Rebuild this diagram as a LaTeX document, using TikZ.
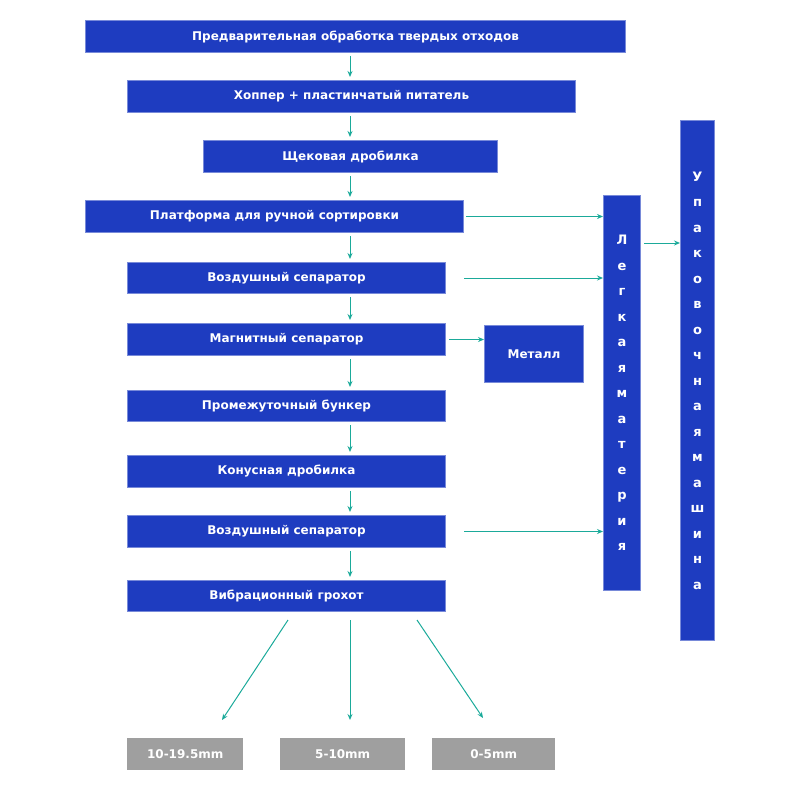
\documentclass[tikz,border=0pt]{standalone}
\usepackage{fontspec}
\setmainfont{DejaVu Sans}
\usetikzlibrary{arrows.meta}
\begin{document}
\begin{tikzpicture}[x=1pt,y=-1pt,
 bx/.style={fill=bl,draw=bl!60,line width=1pt,text=white,font=\bfseries\fontsize{12}{14}\selectfont,inner sep=0pt,anchor=north west},
 gb/.style={fill=gray!75,text=white,font=\bfseries\fontsize{12}{14}\selectfont,inner sep=0pt,anchor=north west,minimum height=32pt},
 ar/.style={draw=tl,line width=1pt,-{Stealth[length=6pt,width=5pt]}},
 vt/.style={fill=bl,draw=bl!60,line width=1pt,text=white,font=\bfseries\fontsize{13}{25.5}\selectfont,inner sep=0pt,anchor=north west,align=center}]
\definecolor{bl}{HTML}{1E3CC0}
\definecolor{tl}{HTML}{1BAA9A}
\useasboundingbox (0,0) rectangle (800,800);
\node[bx,minimum width=540pt,minimum height=32pt] (a) at (85,20) {Предварительная обработка твердых отходов};
\node[bx,minimum width=448pt,minimum height=32pt] (b) at (127,80) {Хоппер + пластинчатый питатель};
\node[bx,minimum width=294pt,minimum height=32pt] (c) at (203,140) {Щековая дробилка};
\node[bx,minimum width=378pt,minimum height=32pt] (d) at (85,200) {Платформа для ручной сортировки};
\node[bx,minimum width=318pt,minimum height=31pt] (e) at (127,262) {Воздушный сепаратор};
\node[bx,minimum width=318pt,minimum height=32pt] (f) at (127,323) {Магнитный сепаратор};
\node[bx,minimum width=318pt,minimum height=31pt] (g) at (127,390) {Промежуточный бункер};
\node[bx,minimum width=318pt,minimum height=32pt] (h) at (127,455) {Конусная дробилка};
\node[bx,minimum width=318pt,minimum height=32pt] (i) at (127,515) {Воздушный сепаратор};
\node[bx,minimum width=318pt,minimum height=31pt] (j) at (127,580) {Вибрационный грохот};
\node[bx,minimum width=99pt,minimum height=57pt] (m) at (484,325) {Металл};
\node[vt,minimum width=37pt,minimum height=395pt] (l) at (603,195) {Л\\е\\г\\к\\а\\я\\м\\а\\т\\е\\р\\и\\я};
\node[vt,minimum width=34pt,minimum height=520pt] (u) at (680,120) {У\\п\\а\\к\\о\\в\\о\\ч\\н\\а\\я\\м\\а\\ш\\и\\н\\а};
\node[gb,minimum width=116pt] (p1) at (127,738) {10-19.5mm};
\node[gb,minimum width=125pt] (p2) at (280,738) {5-10mm};
\node[gb,minimum width=123pt] (p3) at (432,738) {0-5mm};
\coordinate (X) at (350,0);
\foreach \s/\t in {a/b,b/c,c/d,d/e,e/f,f/g,g/h,h/i,i/j}
 \draw[ar,shorten <=3pt,shorten >=3pt] (X |- \s.south) -- (X |- \t.north);
\draw[ar,shorten <=2pt] (d.east) -- (l.west |- d.east);
\draw[ar,shorten <=18pt] (e.east) -- (l.west |- e.east);
\draw[ar,shorten <=18pt] (i.east) -- (l.west |- i.east);
\draw[ar,shorten <=3pt] (f.east) -- (m.west |- f.east);
\coordinate (lu) at (644,243);
\draw[ar] (lu) -- (u.west |- lu);
\coordinate (s1) at (288,620); \coordinate (s2) at (350,620); \coordinate (s3) at (417,620);
\coordinate (e1) at (222,720); \coordinate (e2) at (350,720); \coordinate (e3) at (483,718);
\draw[ar] (s1) -- (e1);
\draw[ar] (s2) -- (e2);
\draw[ar] (s3) -- (e3);
\end{tikzpicture}
\end{document}
